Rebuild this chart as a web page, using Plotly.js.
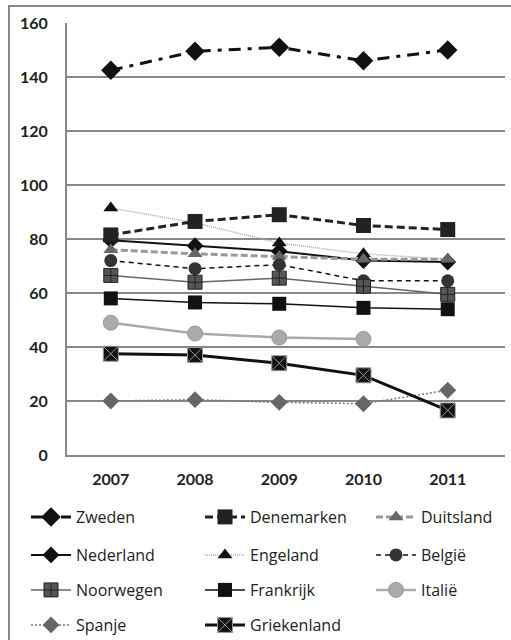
<!DOCTYPE html>
<html><head><meta charset="utf-8">
<script src="https://cdn.plot.ly/plotly-3.0.1.min.js"></script>
<style>
body{margin:0;padding:0;background:#fff;}
#frame{position:absolute;left:8px;top:5px;width:520px;height:650px;border-left:2px solid #888;border-top:2px solid #888;pointer-events:none;z-index:10;}
#chart{position:absolute;left:0;top:0;width:511px;height:640px;}
</style></head>
<body>
<div id="chart"></div><div id="frame"></div>
<script>
const years = ['2007','2008','2009','2010','2011'];
const zweden = [142.5,149.5,151,146,150];
const denemarken = [81.5,86.5,89,85,83.5];
const duitsland = [76,74.5,73.5,72.5,72.5];
const nederland = [79.5,77.5,75.5,72,71.5];
const engeland = [91.5,86,78.5,74.5,72.5];
const belgie = [72,69,70.5,64.5,64.5];
const noorwegen = [66.5,64,65.5,62.5,59.5];
const frankrijk = [58,56.5,56,54.5,54];
const italie = [49,45,43.5,43,null];
const spanje = [20,20.5,19.5,19,24];
const griekenland = [37.5,37,34,29.5,16.5];

const W = 511, H = 640, ML = 67, MR = 6, MT = 23, MB = 185;
const PW = W - ML - MR, PH = H - MT - MB;

function tr(name, y, color, width, dash, symbol, msize, mcolor, mline, legend){
  return {x: years, y: y, name: name, type:'scatter', mode:'lines+markers',
    line:{color:color, width:width, dash:dash},
    marker:{symbol:symbol, size:msize, color:mcolor, line:mline||{width:0}},
    legend: legend, connectgaps:false};
}
const data = [
  tr('Nederland', nederland, '#111', 2, 'solid', 'diamond', 13, '#111', null, 'legend4'),
  tr('Engeland', engeland, '#aaa', 1.5, '1px,1px', 'triangle-up', 13, '#111', null, 'legend5'),
  tr('Duitsland', duitsland, '#999', 3, '7px,3px', 'triangle-up', 13, '#666', null, 'legend3'),
  tr('België', belgie, '#111', 1.5, '5px,4px', 'circle', 13, '#333', null, 'legend6'),
  tr('Noorwegen', noorwegen, '#666', 1.5, 'solid', 'square-cross', 14, '#555', {width:1,color:'#222'}, 'legend7'),
  tr('Frankrijk', frankrijk, '#111', 1.5, 'solid', 'square', 14, '#111', null, 'legend8'),
  tr('Italië', italie, '#aaa', 2.5, 'solid', 'circle', 15, '#aaa', {width:1,color:'#999'}, 'legend9'),
  tr('Spanje', spanje, '#777', 1.5, '2px,2px', 'diamond', 13, '#666', null, 'legend10'),
  tr('Griekenland', griekenland, '#111', 3, 'solid', 'square-x', 15, '#111', {width:1,color:'#999'}, 'legend11'),
  tr('Denemarken', denemarken, '#222', 3, '8px,4px', 'square', 15, '#222', null, 'legend2'),
  tr('Zweden', zweden, '#111', 3, '12px,7px,4px,7px', 'diamond', 15, '#111', null, 'legend'),
];

const legFont = {family:'Open Sans, sans-serif', size:16, color:'#222'};
const colText = [78, 252, 423];
const rowY = [517, 555, 590, 625];
const TEXT_OFF = 52;
function leg(col, row){
  return {orientation:'v', x:(colText[col]-TEXT_OFF-ML)/PW, xanchor:'left',
    y:-(rowY[row]-(H-MB))/PH, yanchor:'middle', itemwidth:40,
    font:legFont, bgcolor:'rgba(0,0,0,0)', itemclick:false, borderwidth:0};
}
const layout = {
  width:W, height:H,
  margin:{l:ML, r:MR, t:MT, b:MB, autoexpand:false},
  paper_bgcolor:'#fff', plot_bgcolor:'#fff',
  showlegend:true,
  xaxis:{type:'category', range:[-0.52,4.68], showgrid:false, showline:true, linecolor:'#888', linewidth:2,
    ticks:'', tickfont:{family:'Lato, sans-serif', size:16, weight:'bold', color:'#222'}, ticklabelstandoff:9, zeroline:false},
  yaxis:{range:[0,160], dtick:20, showgrid:true, gridcolor:'#888', gridwidth:1.5, showline:true, linecolor:'#888', linewidth:2,
    ticks:'', tickfont:{family:'Lato, sans-serif', size:16, weight:'bold', color:'#222'}, ticklabelstandoff:14, zeroline:false},
  legend: leg(0,0), legend2: leg(1,0), legend3: leg(2,0),
  legend4: leg(0,1), legend5: leg(1,1), legend6: leg(2,1),
  legend7: leg(0,2), legend8: leg(1,2), legend9: leg(2,2),
  legend10: leg(0,3), legend11: leg(1,3),
};
Plotly.newPlot('chart', data, layout, {displayModeBar:false, staticPlot:true});
</script>
</body></html>
